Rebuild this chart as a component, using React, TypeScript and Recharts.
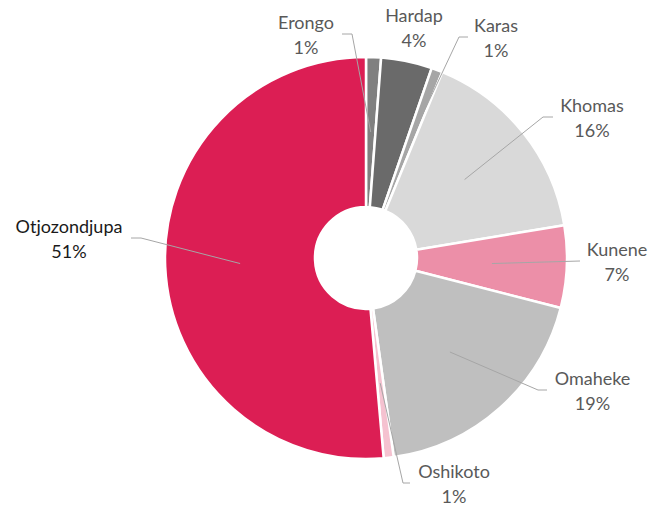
import React from 'react';
import { PieChart, Pie, Cell } from 'recharts';

const REGIONS = ['Erongo', 'Hardap', 'Karas', 'Khomas', 'Kunene', 'Omaheke', 'Oshikoto', 'Otjozondjupa'];
const SHARES = [1.2, 4.1, 0.9, 16.2, 6.6, 18.8, 0.8, 51.4];
const COLORS = ['#808080', '#6a6a6a', '#a6a6a6', '#d9d9d9', '#ec8fa8', '#bfbfbf', '#f5c2d0', '#dc1e54'];
const LABEL_COLORS = ['#595959', '#595959', '#595959', '#595959', '#595959', '#595959', '#595959', '#1a1a1a'];

// label layout relative to pie centre: text centre, line anchor, elbow (null = none)
type Pt = [number, number];
const LABEL_CENTER: Pt[] = [
  [-60, -223], [48, -230], [130, -220], [226, -140.5], [251, 3.5], [226.5, 133], [88, 226], [-297, -19],
];
const LINE_ANCHOR: (Pt | null)[] = [
  [-24, -224], null, [102, -221], [187, -141], [214, 3], [181, 132], [44, 225], [-235, -20],
];
const LINE_ELBOW: (Pt | null)[] = [
  [-14, -224], null, [93, -221], [177, -141], null, [172, 132], [37, 225], [-225, -20],
];

const data = REGIONS.map((name, i) => ({ name, value: SHARES[i] }));

const RAD = Math.PI / 180;
const FONT = 'Lato, "Open Sans", sans-serif';

const renderLabel = (props: any) => {
  const { cx, cy, midAngle, index, percent, name } = props;
  const c = LABEL_CENTER[index];
  const tx = cx + c[0];
  const ty = cy + c[1];
  const anchor = LINE_ANCHOR[index];
  const elbow = LINE_ELBOW[index];
  let path: string | null = null;
  if (anchor) {
    const r = 126;
    const ix = cx + r * Math.cos(-midAngle * RAD);
    const iy = cy + r * Math.sin(-midAngle * RAD);
    path = `M${cx + anchor[0]},${cy + anchor[1]}`;
    if (elbow) path += ` L${cx + elbow[0]},${cy + elbow[1]}`;
    path += ` L${ix},${iy}`;
  }
  const pct = `${Math.round(percent * 100)}%`;
  return (
    <g key={`lbl-${index}`}>
      {path && <path d={path} stroke="#a6a6a6" strokeWidth={1} fill="none" />}
      <text x={tx} y={ty - 6} textAnchor="middle" fontFamily={FONT} fontSize={18} fill={LABEL_COLORS[index]}>
        {name}
      </text>
      <text x={tx} y={ty + 19} textAnchor="middle" fontFamily={FONT} fontSize={18} fill={LABEL_COLORS[index]}>
        {pct}
      </text>
    </g>
  );
};

export default function App() {
  return (
    <div style={{ position: 'absolute', left: 0, top: 0, width: 664, height: 506, background: '#fff' }}>
      <PieChart width={664} height={506} margin={{ top: 0, right: 0, bottom: 0, left: 0 }}>
        <Pie
          data={data}
          dataKey="value"
          nameKey="name"
          cx={366}
          cy={258}
          innerRadius={51}
          outerRadius={201}
          startAngle={90}
          endAngle={-270}
          stroke="#ffffff"
          strokeWidth={2.5}
          label={renderLabel}
          labelLine={false}
          isAnimationActive={false}
        >
          {data.map((d, i) => (
            <Cell key={d.name} fill={COLORS[i]} />
          ))}
        </Pie>
      </PieChart>
    </div>
  );
}
